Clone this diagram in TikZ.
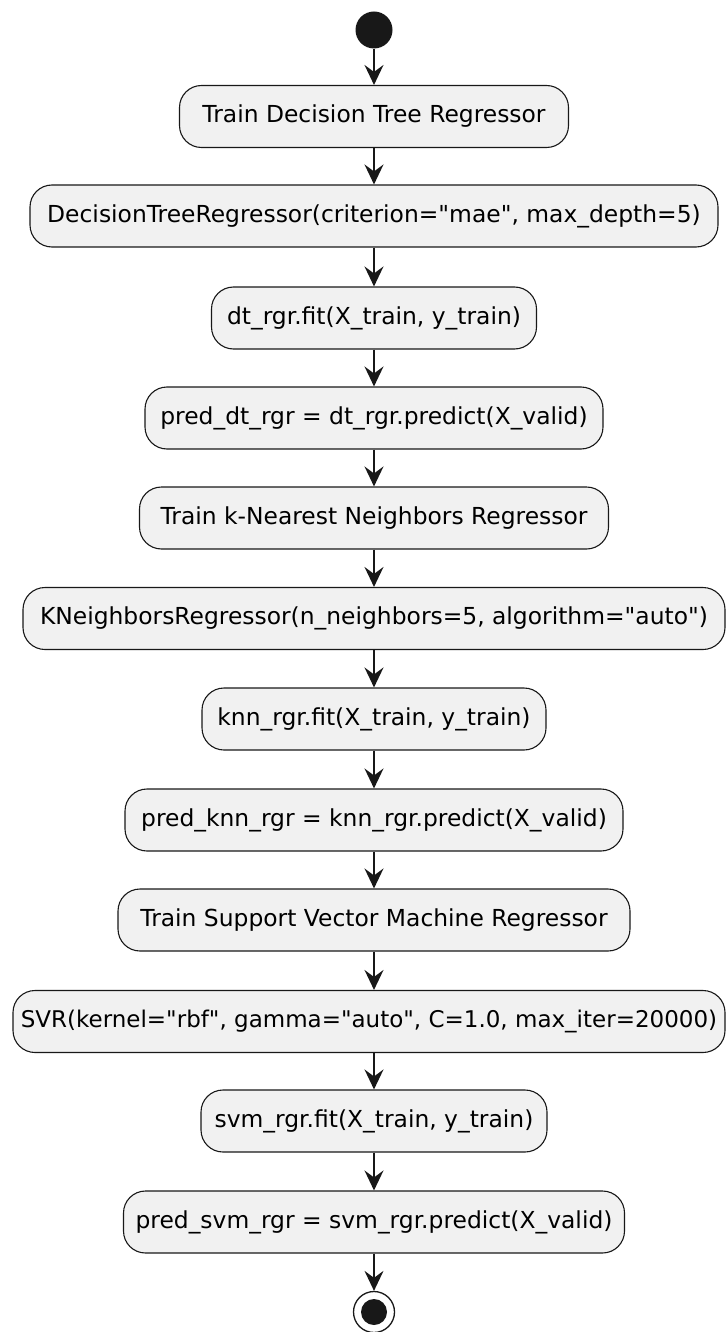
\documentclass[tikz,border=0pt]{standalone}
\usepackage{fontspec}
\setmainfont{DejaVu Sans}[Ligatures=TeXOff]
\usetikzlibrary{arrows.meta}
\definecolor{actfill}{HTML}{F1F1F1}
\definecolor{actline}{HTML}{181818}
\begin{document}
\begin{tikzpicture}[x=1pt,y=-1pt,
  act/.style={draw=actline, fill=actfill, line width=1.1pt, rounded corners=22pt,
    minimum height=62pt, inner sep=0pt, font=\fontsize{23.4}{27}\selectfont},
  flow/.style={draw=actline, line width=1.6pt,
    -{Stealth[length=20pt, width=19pt, inset=7pt]}},
  startdot/.style={circle, fill=actline, minimum size=37pt, inner sep=0pt},
  enddot/.style={circle, draw=actline, line width=1.3pt, fill=white, minimum size=41pt, inner sep=0pt}
]
\useasboundingbox (0,0) rectangle (726,1332);

\node[startdot] (start) at (374,30) {};
\node[act, minimum width=389pt] (n1) at (374,116.5) {Train Decision Tree Regressor};
\node[act, minimum width=688pt] (n2) at (374,216) {DecisionTreeRegressor(criterion="mae", max\_depth=5)};
\node[act, minimum width=325pt] (n3) at (374,318) {dt\_rgr.fit(X\_train, y\_train)};
\node[act, minimum width=458pt] (n4) at (374,418) {pred\_dt\_rgr = dt\_rgr.predict(X\_valid)};
\node[act, minimum width=469pt] (n5) at (374,518) {Train k-Nearest Neighbors Regressor};
\node[act, minimum width=702pt] (n6) at (374,618.5) {KNeighborsRegressor(n\_neighbors=5, algorithm="auto")};
\node[act, minimum width=344pt] (n7) at (374,719) {knn\_rgr.fit(X\_train, y\_train)};
\node[act, minimum width=498pt] (n8) at (374,820) {pred\_knn\_rgr = knn\_rgr.predict(X\_valid)};
\node[act, minimum width=512pt] (n9) at (374,920) {Train Support Vector Machine Regressor};
\node[act, minimum width=712pt, font=\fontsize{23}{27}\selectfont] (n10) at (369,1021.5) {SVR(kernel="rbf", gamma="auto", C=1.0, max\_iter=20000)};
\node[act, minimum width=346pt] (n11) at (374,1121) {svm\_rgr.fit(X\_train, y\_train)};
\node[act, minimum width=501pt] (n12) at (374,1222) {pred\_svm\_rgr = svm\_rgr.predict(X\_valid)};
\node[enddot] (stop) at (374,1312) {};
\fill[actline] (stop.center) circle (13pt);

\draw[flow] (start) -- (n1);
\draw[flow] (n1) -- (n2);
\draw[flow] (n2) -- (n3);
\draw[flow] (n3) -- (n4);
\draw[flow] (n4) -- (n5);
\draw[flow] (n5) -- (n6);
\draw[flow] (n6) -- (n7);
\draw[flow] (n7) -- (n8);
\draw[flow] (n8) -- (n9);
\draw[flow] (n9.south) -- (n9.south |- n10.north);
\draw[flow] (n10.south -| n11.north) -- (n11.north);
\draw[flow] (n11) -- (n12);
\draw[flow] (n12) -- (stop);
\end{tikzpicture}
\end{document}
